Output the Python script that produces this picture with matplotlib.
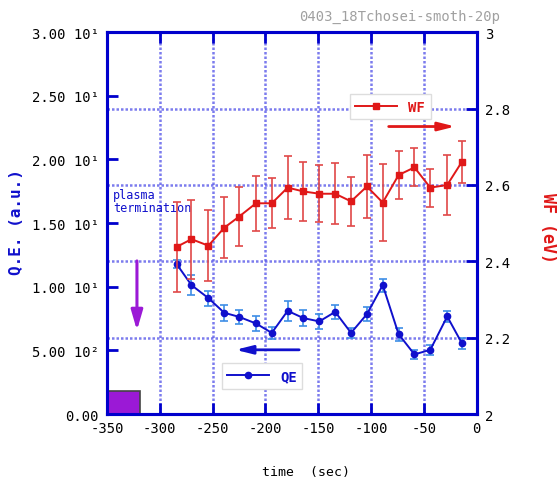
import matplotlib

matplotlib.use("Agg")

import matplotlib.pyplot as plt
from matplotlib.lines import Line2D

plt.rcParams["font.family"] = ["DejaVu Sans Mono", "Noto Sans CJK JP"]

# ---- data ----
time_s = [-284, -270, -254, -239, -225, -209, -194, -179, -164, -149,
          -134, -119, -104, -89, -74, -59, -44, -28, -14]

qe = [1.178, 1.013, 0.911, 0.796, 0.764, 0.712, 0.638, 0.811, 0.754, 0.728,
      0.803, 0.638, 0.785, 1.013, 0.628, 0.469, 0.505, 0.767, 0.555]
qe_err = [0.03, 0.079, 0.059, 0.063, 0.055, 0.059, 0.05, 0.079, 0.061, 0.056,
          0.055, 0.037, 0.057, 0.05, 0.052, 0.037, 0.037, 0.043, 0.046]

wf = [2.438, 2.458, 2.441, 2.488, 2.517, 2.552, 2.552, 2.593, 2.583, 2.577,
      2.577, 2.557, 2.596, 2.554, 2.626, 2.646, 2.593, 2.600, 2.661]
wf_err = [0.117, 0.103, 0.093, 0.080, 0.078, 0.072, 0.066, 0.083, 0.077, 0.075,
          0.080, 0.065, 0.082, 0.10, 0.064, 0.05, 0.05, 0.078, 0.055]

left_ticks = [0.0, 0.5, 1.0, 1.5, 2.0, 2.5, 3.0]
left_labels = ["0.00", "5.00 10²", "1.00 10¹", "1.50 10¹",
               "2.00 10¹", "2.50 10¹", "3.00 10¹"]
right_ticks = [2.0, 2.2, 2.4, 2.6, 2.8, 3.0]
right_labels = ["2", "2.2", "2.4", "2.6", "2.8", "3"]
x_ticks = [-350, -300, -250, -200, -150, -100, -50, 0]

AXIS_BLUE = "#0000cc"
GRID_BLUE = "#5050e8"
QE_BLUE = "#1010cc"
QE_ERR = "#3d8de6"
WF_RED = "#e01818"
WF_ERR = "#e04848"
PURPLE = "#9b19d6"
GRID_STYLE = dict(color=GRID_BLUE, linestyle=(0, (1, 0.8)), linewidth=1.8, alpha=0.75)

fig = plt.figure(figsize=(5.57, 4.81), dpi=100)
ax = fig.add_axes([0.192, 0.137, 0.664, 0.794])
ax2 = ax.twinx()

# ---- left axis: QE ----
ax.set_xlim(-350, 0)
ax.set_ylim(0, 3)
ax.set_xticks(x_ticks)
ax.set_xticklabels([str(t) for t in x_ticks])
ax.set_yticks(left_ticks)
ax.set_yticklabels(left_labels)
# horizontal grid matches the right axis 2.2 .. 2.8
ax.set_yticks([3 * (r - 2) for r in right_ticks[1:-1]], minor=True)
ax.grid(axis="x", which="major", **GRID_STYLE)
ax.grid(axis="y", which="minor", **GRID_STYLE)
ax.tick_params(axis="both", which="major", direction="in", length=8, width=2,
               color=AXIS_BLUE, labelsize=10, top=True, pad=6)
ax.tick_params(axis="y", which="minor", length=0)
ax.tick_params(axis="x", pad=5)

ax.errorbar(time_s, qe, yerr=qe_err, color=QE_BLUE, ecolor=QE_ERR, elinewidth=1.2,
            capsize=3, capthick=1.2, marker="o", markersize=4.5, linewidth=1.4,
            zorder=3)

# purple block and arrow (plasma termination)
ax.bar([-350], [0.178], width=31, align="edge", color=PURPLE,
       edgecolor="#444444", linewidth=1.2, zorder=4)
ax.annotate("", xy=(-321.6, 0.636), xytext=(-321.6, 1.225),
            arrowprops=dict(arrowstyle="-|>,head_width=0.35,head_length=1.2",
                            color=PURPLE, lw=2.2))
ax.text(-344, 1.78, "plasma\ntermination", color=QE_BLUE, fontsize=8.5,
        va="top", ha="left", linespacing=1.0)

# blue arrow pointing to the left axis
ax.annotate("", xy=(-231, 0.505), xytext=(-165.5, 0.505),
            arrowprops=dict(arrowstyle="-|>,head_width=0.25,head_length=1.0",
                            color=QE_BLUE, lw=2))

qe_handle = Line2D([], [], color=QE_BLUE, marker="o", markersize=4.5, linewidth=1.4)
leg1 = ax.legend([qe_handle], ["QE"], loc="lower left", bbox_to_anchor=(0.31, 0.067),
                 borderaxespad=0, fancybox=False, edgecolor="#dddddd", framealpha=1,
                 handlelength=3.0, prop={"weight": "bold", "size": 10})
for t in leg1.get_texts():
    t.set_color(QE_BLUE)

# ---- right axis: WF ----
ax2.set_ylim(2, 3)
ax2.set_yticks(right_ticks)
ax2.set_yticklabels(right_labels)
ax2.tick_params(axis="y", direction="in", length=8, width=2, color=AXIS_BLUE,
                labelsize=10, pad=6)
ax2.errorbar(time_s, wf, yerr=wf_err, color=WF_RED, ecolor=WF_ERR, elinewidth=1.2,
             capsize=3, capthick=1.2, marker="s", markersize=4.5, linewidth=1.4,
             zorder=3)
ax2.annotate("", xy=(-17.7, 2.753), xytext=(-86, 2.753),
             arrowprops=dict(arrowstyle="-|>,head_width=0.25,head_length=1.0",
                             color=WF_RED, lw=2))
wf_handle = Line2D([], [], color=WF_RED, marker="s", markersize=4.5, linewidth=1.4)
leg2 = ax2.legend([wf_handle], ["WF"], loc="lower left", bbox_to_anchor=(0.657, 0.772),
                  borderaxespad=0, fancybox=False, edgecolor="#dddddd", framealpha=1,
                  handlelength=3.0, prop={"weight": "bold", "size": 10})
for t in leg2.get_texts():
    t.set_color(WF_RED)

for a in (ax, ax2):
    for sp in a.spines.values():
        sp.set_color(AXIS_BLUE)
        sp.set_linewidth(2.2)

# ---- labels ----
fig.text(17 / 557, 1 - 222 / 481, "Q.E. (a.u.)", rotation=90, color=QE_BLUE,
         fontsize=11.5, fontweight="bold", ha="center", va="center")
fig.text(548 / 557, 1 - 228 / 481, "WF (eV)", rotation=-90, color=WF_RED,
         fontsize=12, fontweight="bold", ha="center", va="center")
fig.text(306 / 557, 1 - 473 / 481, "time  (sec)", color="black", fontsize=9.5,
         ha="center", va="center")
fig.text(400 / 557, 1 - 17 / 481, "0403_18Tchosei-smoth-20p", color="#a0a0a0",
         fontsize=10, ha="center", va="center")

fig.savefig("out.png", dpi=100)
